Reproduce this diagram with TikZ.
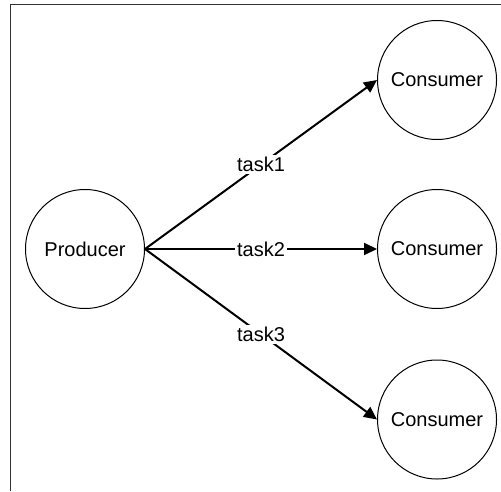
\documentclass[tikz,border=0pt]{standalone}
\usepackage{fontspec}
\setmainfont{Liberation Sans}
\usepackage{tikz}
\usetikzlibrary{arrows.meta}

\begin{document}
\begin{tikzpicture}[x=0.5pt,y=-0.5pt,
  actor/.style={draw,circle,line width=0.5pt,minimum size=59.5pt,inner sep=0pt,font=\fontsize{10}{12}\selectfont},
  ar/.style={-{Triangle[length=6.5pt,width=6pt]},line width=1pt},
  lbl/.style={fill=white,inner sep=1pt,font=\fontsize{10}{12}\selectfont}]
\useasboundingbox (0,0) rectangle (501,491);
\draw[line width=0.5pt,black!80] (10.5,491) -- (10.5,4.5) -- (501,4.5);
\node[actor] (prod) at (85,249) {Producer};
\node[actor] (cons1) at (437,80) {Consumer};
\node[actor] (cons2) at (437,249) {Consumer};
\node[actor] (cons3) at (437,419.5) {Consumer};
\draw[ar] (prod.east) -- node[lbl]{task1} (cons1.west);
\draw[ar] (prod.east) -- node[lbl]{task2} (cons2.west);
\draw[ar] (prod.east) -- node[lbl]{task3} (cons3.west);
\end{tikzpicture}
\end{document}
